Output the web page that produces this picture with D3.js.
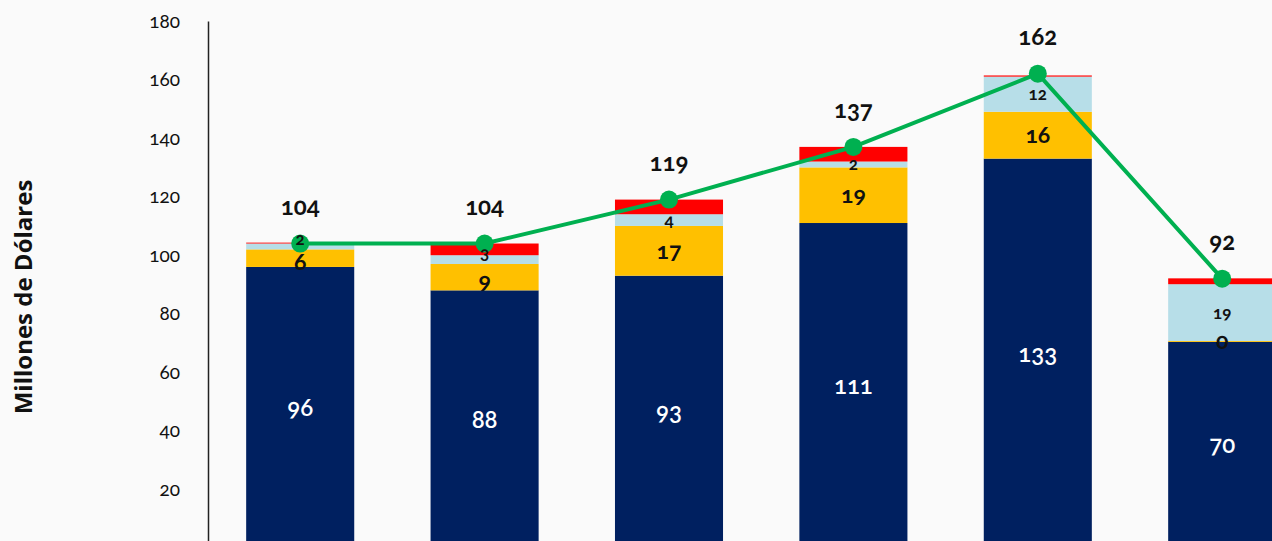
<!DOCTYPE html>
<html>
<head>
<meta charset="utf-8">
<script src="https://cdn.jsdelivr.net/npm/d3@7"></script>
<style>
  body { margin: 0; background: #fafafa; }
  svg text { font-family: Lato, "Open Sans", sans-serif; font-variant-numeric: oldstyle-nums; }
</style>
</head>
<body>
<div id="chart"></div>
<script>
// data
var categories = ["A", "B", "C", "D", "E", "F"];
var navy  = [96, 88, 93, 111, 133, 70.4];
var gold  = [6, 9, 17, 19, 16, 0.3];
var light = [2, 3, 4, 2, 12, 19.4];
var red   = [0.3, 4, 5, 5, 0.4, 2];
var totals = [104, 104, 119, 137, 162, 92];
var yTicks = [20, 40, 60, 80, 100, 120, 140, 160, 180];

var width = 1272, height = 541;

var svg = d3.select("#chart").append("svg")
    .attr("width", width)
    .attr("height", height);

var x = d3.scaleBand().domain(categories)
    .range([208, 1314.4])
    .paddingInner(0.414)
    .paddingOuter(0.207);

var y = d3.scaleLinear().domain([0, 180]).range([548, 21]);

// stack the series
var keys = ["navy", "gold", "light", "red"];
var colors = { navy: "#002060", gold: "#ffc000", light: "#b7dee8", red: "#ff0000" };
var rows = categories.map(function(c, i) {
  return { cat: c, i: i, navy: navy[i], gold: gold[i], light: light[i], red: red[i] };
});
var stacked = d3.stack().keys(keys)(rows);

svg.selectAll("g.layer")
    .data(stacked)
  .enter().append("g")
    .attr("class", "layer")
    .attr("fill", function(d) { return colors[d.key]; })
  .selectAll("rect")
    .data(function(d) { return d; })
  .enter().append("rect")
    .attr("x", function(d) { return x(d.data.cat); })
    .attr("width", x.bandwidth())
    .attr("y", function(d) { return y(d[1]); })
    .attr("height", function(d) { return y(d[0]) - y(d[1]); });

// y axis
var yAxis = svg.append("g")
    .attr("transform", "translate(208,0)")
    .call(d3.axisLeft(y).tickValues(yTicks).tickSize(0).tickPadding(28));
yAxis.select(".domain").attr("stroke", "#222").attr("stroke-width", 1.5);
yAxis.selectAll("text").attr("font-size", 19).attr("fill", "#111");

svg.append("text")
    .attr("transform", "translate(32,297) rotate(-90)")
    .attr("text-anchor", "middle")
    .attr("font-size", 24)
    .attr("font-weight", "bold")
    .style("font-family", "'Open Sans', sans-serif")
    .attr("fill", "#111")
    .text("Millones de Dólares");

// total line
var line = d3.line()
    .x(function(d, i) { return x(categories[i]) + x.bandwidth() / 2; })
    .y(function(d) { return y(d); });

svg.append("path")
    .datum(totals)
    .attr("fill", "none")
    .attr("stroke", "#00b050")
    .attr("stroke-width", 4)
    .attr("d", line);

svg.append("g").selectAll("circle")
    .data(totals)
  .enter().append("circle")
    .attr("cx", function(d, i) { return x(categories[i]) + x.bandwidth() / 2; })
    .attr("cy", function(d) { return y(d); })
    .attr("r", 9)
    .attr("fill", "#00b050");

// segment labels (drawn over the line, like the original)
function mid(d) { return y((d[0] + d[1]) / 2); }
var labelStyle = {
  navy:  { fill: "#fff", size: 24, weight: 600, shift: 0 },
  gold:  { fill: "#111", size: 23, weight: 700, shift: 4 },
  light: { fill: "#111", size: 17, weight: 700, shift: -7 }
};
stacked.filter(function(s) { return s.key !== "red"; }).forEach(function(s) {
  var st = labelStyle[s.key];
  svg.append("g").selectAll("text")
      .data(s)
    .enter().append("text")
      .attr("x", function(d) { return x(d.data.cat) + x.bandwidth() / 2; })
      .attr("y", function(d) {
        // where gold and light are both thin the labels crowd, nudge apart
        var i = d.data.i;
        var crowded = gold[i] < 10 && light[i] < 10;
        return mid(d) + (crowded ? st.shift : 0);
      })
      .attr("dy", "0.35em")
      .attr("text-anchor", "middle")
      .attr("font-size", st.size)
      .attr("font-weight", st.weight)
      .attr("fill", st.fill)
      .text(function(d) { return Math.round(d[1] - d[0]); });
});

svg.append("g").selectAll("text")
    .data(totals)
  .enter().append("text")
    .attr("x", function(d, i) { return x(categories[i]) + x.bandwidth() / 2; })
    .attr("y", function(d) { return y(d) - 29; })
    .attr("text-anchor", "middle")
    .attr("font-size", 24)
    .attr("font-weight", "bold")
    .attr("fill", "#111")
    .text(function(d) { return d; });
</script>
</body>
</html>
